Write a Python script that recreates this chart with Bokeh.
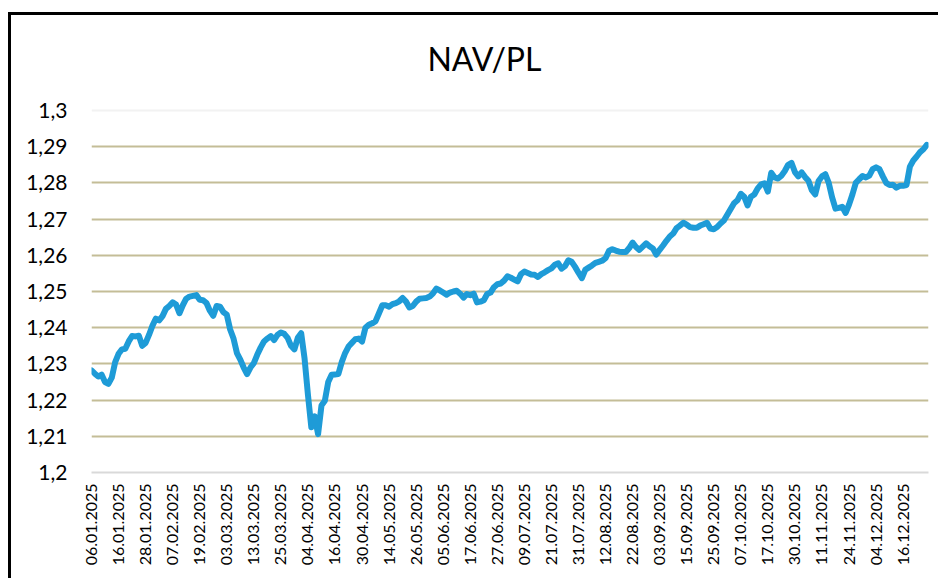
from bokeh.plotting import figure
from bokeh.models import FixedTicker, Range1d, Grid, Label
from bokeh.embed import file_html
from bokeh.resources import INLINE
import math

# NAV per unit, one value per valuation day (06.01.2025 .. 30.12.2025)
nav = [
    1.2282, 1.2273, 1.2265, 1.2270, 1.2250, 1.2245, 1.2262, 1.2305, 1.2328, 1.2340,
    1.2342, 1.2362, 1.2377, 1.2376, 1.2378, 1.2350, 1.2358, 1.2380, 1.2405, 1.2425,
    1.2420, 1.2432, 1.2452, 1.2460, 1.2470, 1.2464, 1.2440, 1.2462, 1.2480, 1.2486,
    1.2488, 1.2490, 1.2477, 1.2476, 1.2468, 1.2447, 1.2433, 1.2460, 1.2458, 1.2443,
    1.2436, 1.2395, 1.2370, 1.2330, 1.2312, 1.2290, 1.2272, 1.2290, 1.2302, 1.2325,
    1.2345, 1.2362, 1.2370, 1.2377, 1.2366, 1.2380, 1.2387, 1.2383, 1.2372, 1.2350,
    1.2340, 1.2372, 1.2385, 1.2315, 1.2215, 1.2125, 1.2155, 1.2106, 1.2185, 1.2198,
    1.2250, 1.2270, 1.2271, 1.2272, 1.2305, 1.2330, 1.2348, 1.2358, 1.2368, 1.2370,
    1.2362, 1.2400, 1.2408, 1.2412, 1.2418, 1.2440, 1.2462, 1.2462, 1.2458, 1.2465,
    1.2468, 1.2473, 1.2482, 1.2472, 1.2456, 1.2460, 1.2472, 1.2480, 1.2481, 1.2482,
    1.2486, 1.2495, 1.2508, 1.2503, 1.2497, 1.2491, 1.2497, 1.2500, 1.2502, 1.2494,
    1.2483, 1.2493, 1.2490, 1.2494, 1.2470, 1.2472, 1.2476, 1.2493, 1.2497, 1.2512,
    1.2520, 1.2522, 1.2530, 1.2542, 1.2538, 1.2533, 1.2528, 1.2548, 1.2555, 1.2551,
    1.2547, 1.2546, 1.2540, 1.2548, 1.2553, 1.2559, 1.2564, 1.2574, 1.2578, 1.2563,
    1.2570, 1.2586, 1.2582, 1.2568, 1.2552, 1.2537, 1.2560, 1.2566, 1.2572, 1.2579,
    1.2582, 1.2585, 1.2592, 1.2612, 1.2617, 1.2613, 1.2610, 1.2609, 1.2609, 1.2620,
    1.2635, 1.2623, 1.2615, 1.2624, 1.2633, 1.2625, 1.2619, 1.2602, 1.2615, 1.2627,
    1.2640, 1.2652, 1.2660, 1.2675, 1.2682, 1.2690, 1.2685, 1.2678, 1.2676, 1.2676,
    1.2682, 1.2686, 1.2690, 1.2674, 1.2672, 1.2678, 1.2688, 1.2696, 1.2712, 1.2728,
    1.2744, 1.2752, 1.2770, 1.2762, 1.2738, 1.2762, 1.2768, 1.2785, 1.2796, 1.2799,
    1.2776, 1.2828, 1.2815, 1.2812, 1.2820, 1.2833, 1.2850, 1.2855, 1.2830, 1.2818,
    1.2829, 1.2816, 1.2806, 1.2780, 1.2768, 1.2805, 1.2818, 1.2824, 1.2800, 1.2760,
    1.2729, 1.2731, 1.2734, 1.2717, 1.2740, 1.2768, 1.2800, 1.2810, 1.2819, 1.2815,
    1.2820, 1.2838, 1.2843, 1.2838, 1.2818, 1.2800, 1.2794, 1.2795, 1.2787, 1.2792,
    1.2792, 1.2794, 1.2845, 1.2862, 1.2873, 1.2885, 1.2893, 1.2905,
]

# category labels shown on the x axis (every 8th valuation day)
x_tick_labels = [
    "06.01.2025", "16.01.2025", "28.01.2025", "07.02.2025", "19.02.2025",
    "03.03.2025", "13.03.2025", "25.03.2025", "04.04.2025", "16.04.2025",
    "30.04.2025", "14.05.2025", "26.05.2025", "05.06.2025", "17.06.2025",
    "27.06.2025", "09.07.2025", "21.07.2025", "31.07.2025", "12.08.2025",
    "22.08.2025", "03.09.2025", "15.09.2025", "25.09.2025", "07.10.2025",
    "17.10.2025", "30.10.2025", "11.11.2025", "24.11.2025", "04.12.2025",
    "16.12.2025",
]
label_step = 8

y_ticks = [1.2, 1.21, 1.22, 1.23, 1.24, 1.25, 1.26, 1.27, 1.28, 1.29, 1.3]
y_tick_labels = ["1,2", "1,21", "1,22", "1,23", "1,24", "1,25", "1,26",
                 "1,27", "1,28", "1,29", "1,3"]
chart_title = "NAV/PL"

FONT = "Lato"
x = list(range(len(nav)))
x_ticks = [i * label_step for i in range(len(x_tick_labels))]

# the frame is extended upward (beyond the 1,3 gridline) to hold the title
Y_TOP = 1.3221
p = figure(width=930, height=566, output_backend="svg", toolbar_location=None,
           x_range=Range1d(0, 247.5), y_range=Range1d(y_ticks[0], Y_TOP),
           min_border_left=80, min_border_right=13, min_border_top=15,
           min_border_bottom=109)
p.styles = {"border-left": "3px solid black", "border-top": "3px solid black",
            "margin-top": "12px", "margin-left": "8px"}
p.outline_line_color = None
p.background_fill_color = "white"
p.border_fill_color = "white"

title_label = Label(x=116.2, y=1.3145, text=chart_title, text_font=FONT,
                    text_font_size="32px", text_color="#000000",
                    text_align="center", text_baseline="middle")
p.add_layout(title_label)

# y axis
p.yaxis.ticker = FixedTicker(ticks=y_ticks)
p.yaxis.major_label_overrides = dict(zip(y_ticks, y_tick_labels))
p.yaxis.axis_line_color = None
p.yaxis.major_tick_line_color = None
p.yaxis.minor_tick_line_color = None
p.yaxis.major_tick_out = 0
p.yaxis.major_label_standoff = 24
p.yaxis.major_label_text_font = FONT
p.yaxis.major_label_text_font_size = "21px"
p.yaxis.major_label_text_color = "#000000"

# x axis
p.xaxis.ticker = FixedTicker(ticks=x_ticks)
p.xaxis.major_label_overrides = dict(zip(x_ticks, x_tick_labels))
p.xaxis.major_label_orientation = math.pi / 2
p.xaxis.axis_line_color = "#D9D9D9"
p.xaxis.axis_line_width = 2
p.xaxis.major_tick_line_color = None
p.xaxis.minor_tick_line_color = None
p.xaxis.major_tick_out = 0
p.xaxis.major_label_standoff = 11
p.xaxis.major_label_text_font = FONT
p.xaxis.major_label_text_font_size = "16px"
p.xaxis.major_label_text_color = "#000000"

# grid
p.xgrid.grid_line_color = None
p.ygrid.ticker = FixedTicker(ticks=y_ticks[1:-1])
p.ygrid.grid_line_color = "#C4BD97"
p.ygrid.grid_line_width = 2
top_grid = Grid(dimension=1, ticker=FixedTicker(ticks=y_ticks[-1:]),
                grid_line_color="#F2F2F2", grid_line_width=2)
p.add_layout(top_grid)

p.line(x, nav, line_color="#1E9BD7", line_width=6, line_join="round",
       line_cap="round")

open("out.html", "w").write(file_html(p, INLINE))
